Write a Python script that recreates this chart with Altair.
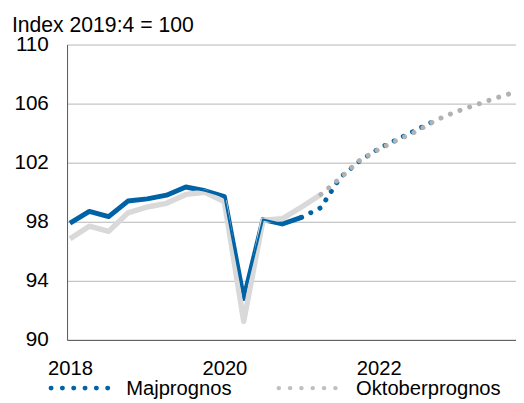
import altair as alt
import pandas as pd

FONT = "Liberation Sans"
BLUE = "#0063a6"
GREY_LINE = "#d9d9d9"
GREY_DOT = "#b2b2b2"
GREY_LEGEND = "#c0c0c0"

TITLE = "Index 2019:4 = 100"

# quarters 2018:1 ... 2023:4
periods = [f"{y}:{q}" for y in range(2018, 2024) for q in range(1, 5)]

# Majprognos: outcome 2018:1-2021:1, forecast 2021:1-2022:4
maj_outcome = [97.9, 98.7, 98.35, 99.4, 99.55, 99.8, 100.35, 100.1, 99.7, 92.8, 98.15, 97.85, 98.3]
maj_forecast = [98.3, 98.95, 101.0, 102.1, 102.95, 103.6, 104.25, 104.9]

# Oktoberprognos: outcome 2018:1-2021:2, forecast 2021:2-2023:4
okt_outcome = [96.85, 97.7, 97.35, 98.6, 99.0, 99.25, 99.85, 100.0, 99.35, 91.25, 98.1, 98.2, 99.0, 99.85]
okt_forecast = [99.85, 100.95, 102.15, 102.9, 103.55, 104.15, 104.9, 105.45, 105.9, 106.35, 106.75]

series_names = ["Majprognos", "Oktoberprognos"]
x_ticks = [2018, 2020, 2022]
y_ticks = [90, 94, 98, 102, 106, 110]


def frame(values, start, series):
    rows = []
    for i, v in enumerate(values):
        p = periods[start + i]
        yr, q = p.split(":")
        rows.append({"period": p, "time": int(yr) + (int(q) - 1) / 4, "value": v, "series": series})
    return rows


rows = (
    frame(maj_outcome, 0, "maj_out")
    + frame(maj_forecast, periods.index("2021:1"), "maj_fc")
    + frame(okt_outcome, 0, "okt_out")
    + frame(okt_forecast, periods.index("2021:2"), "okt_fc")
)
df = pd.DataFrame(rows)

x_enc = alt.X(
    "time:Q",
    scale=alt.Scale(domain=[2017.9617, 2023.778], nice=False, zero=False),
    axis=alt.Axis(
        values=x_ticks, format="d", title=None, grid=False, ticks=False,
        labelPadding=19, labelFontSize=20.5, labelFont=FONT, labelColor="#000000",
        labelAngle=0, domainColor="#555555", domainWidth=1, labelFlush=False,
    ),
)
y_enc = alt.Y(
    "value:Q",
    scale=alt.Scale(domain=[90, 110], nice=False, zero=False),
    axis=alt.Axis(
        values=y_ticks, title=None, grid=True, gridColor="#b5b5b5", gridWidth=1,
        ticks=False, labelPadding=19, labelFontSize=21, labelFont=FONT,
        labelColor="#000000", domainColor="#555555", domainWidth=1,
    ),
)

base = alt.Chart(df).encode(x=x_enc, y=y_enc, order="time:Q")

blue_thick = base.transform_filter(alt.datum.series == "maj_out").mark_line(
    color=BLUE, strokeWidth=5, strokeJoin="round", clip=True)
grey_thick = base.transform_filter(alt.datum.series == "okt_out").mark_line(
    color=GREY_LINE, strokeWidth=5.5, strokeJoin="round", clip=True)
blue_thin = base.transform_filter(alt.datum.series == "maj_out").mark_line(
    color=BLUE, strokeWidth=2, strokeJoin="round", clip=True)
blue_fc = base.transform_filter(alt.datum.series == "maj_fc").mark_line(
    color=BLUE, strokeWidth=5, strokeDash=[0.1, 10.3], strokeCap="round", clip=True)
grey_fc = base.transform_filter(alt.datum.series == "okt_fc").mark_line(
    color=GREY_DOT, strokeWidth=5, strokeDash=[0.1, 10.3], strokeCap="round", clip=True)

title_df = pd.DataFrame({"label": [TITLE]})
title = alt.Chart(title_df).mark_text(
    align="left", baseline="alphabetic", fontSize=21.5, font=FONT, color="#000000"
).encode(x=alt.value(-56), y=alt.value(-13), text="label:N")

maj_df = pd.DataFrame({"label": [series_names[0]]})
okt_df = pd.DataFrame({"label": [series_names[1]]})

leg_maj_sym = alt.Chart(maj_df).mark_rule(
    color=BLUE, strokeWidth=5, strokeDash=[0.1, 11.4], strokeCap="round"
).encode(x=alt.value(-16.3), x2=alt.value(52.2), y=alt.value(349))
leg_maj_txt = alt.Chart(maj_df).mark_text(
    align="left", baseline="alphabetic", fontSize=20.5, font=FONT, color="#000000"
).encode(x=alt.value(60), y=alt.value(355.5), text="label:N")

leg_okt_sym = alt.Chart(okt_df).mark_rule(
    color=GREY_LEGEND, strokeWidth=4.5, strokeDash=[0.1, 11.4], strokeCap="round"
).encode(x=alt.value(215), x2=alt.value(283.5), y=alt.value(349))
leg_okt_txt = alt.Chart(okt_df).mark_text(
    align="left", baseline="alphabetic", fontSize=20.5, font=FONT, color="#000000"
).encode(x=alt.value(293.5), y=alt.value(355.5), text="label:N")

chart = alt.layer(
    blue_thick, grey_thick, blue_thin, blue_fc, grey_fc,
    title, leg_maj_sym, leg_maj_txt, leg_okt_sym, leg_okt_txt,
).properties(
    width=456,
    height=300,
    autosize=alt.AutoSizeParams(type="none"),
    padding={"left": 60, "top": 34, "right": 0, "bottom": 61},
    background="white",
).configure_view(stroke=None)

chart.save("out.html", embed_options={"renderer": "svg", "actions": False})
